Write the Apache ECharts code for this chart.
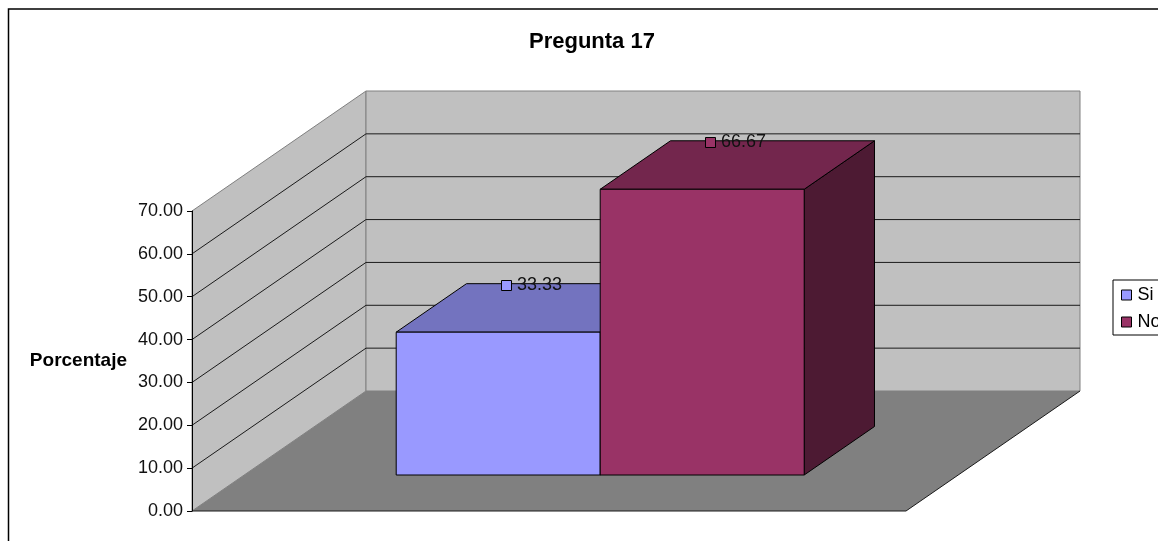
<!DOCTYPE html>
<html><head><meta charset="utf-8">
<style>html,body{margin:0;padding:0;background:#fff}#c{width:1158px;height:541px}</style>
<script src="https://cdn.jsdelivr.net/npm/echarts@6/dist/echarts.min.js"></script>
</head><body><div id="c"></div>
<script>
const chartTitle = 'Pregunta 17';
const yAxisName = 'Porcentaje';
const categories = [''];
const seriesNames = ['Si', 'No'];
const siValues = [33.33];
const noValues = [66.67];
const yTicks = [0, 10, 20, 30, 40, 50, 60, 70];

const FONT = '"Liberation Sans", Arial, sans-serif';
const DEPTH = [174, -120];         // screen vector of the full floor depth
const BAR_D = [0.3, 0.704];        // bars' depth range
const BAR_SHARE = 204 / 714;       // bar width as a share of the category
const BAR_NUDGE = -1;
const palette = [
  {front: '#9999FF', top: '#7373BF', side: '#4D4D80'},
  {front: '#993366', top: '#73264D', side: '#4D1A33'}
];

function proj(api, xShift, v, d) {
  const c = api.coord([0, v]);
  return [c[0] + xShift + d * DEPTH[0], c[1] + d * DEPTH[1]];
}

function wallsItem(params, api) {
  const w = api.size([1, 0])[0];
  const ymax = yTicks[yTicks.length - 1];
  const P = (t, v, d) => proj(api, (t - 0.5) * w, v, d);
  const kids = [
    {type: 'polygon', shape: {points: [P(0,0,0), P(0,0,1), P(0,ymax,1), P(0,ymax,0)]},
     style: {fill: '#C0C0C0', stroke: '#808080', lineWidth: 1}},
    {type: 'polygon', shape: {points: [P(0,0,1), P(1,0,1), P(1,ymax,1), P(0,ymax,1)]},
     style: {fill: '#C0C0C0', stroke: '#808080', lineWidth: 1}},
    {type: 'polygon', shape: {points: [P(0,0,0), P(1,0,0), P(1,0,1), P(0,0,1)]},
     style: {fill: '#808080', stroke: 'none'}},
    {type: 'polyline', shape: {points: [P(0,0,0), P(1,0,0), P(1,0,1)]},
     style: {fill: 'none', stroke: '#1a1a1a', lineWidth: 1}}
  ];
  yTicks.slice(1, -1).forEach(v => {
    kids.push({type: 'polyline', shape: {points: [P(0,v,0), P(0,v,1), P(1,v,1)]},
      style: {fill: 'none', stroke: '#1a1a1a', lineWidth: 1}});
  });
  return {type: 'group', children: kids};
}

function barItem(idx) {
  return function (params, api) {
    const w = api.size([1, 0])[0];
    const bw = w * BAR_SHARE;
    const x0 = (idx - 1) * bw + BAR_NUDGE, x1 = x0 + bw;
    const v = api.value(1);
    const p = palette[idx];
    const P = (x, val, d) => proj(api, x, val, d);
    const [d0, d1] = BAR_D;
    const st = f => ({fill: f, stroke: '#000', lineWidth: 1, lineJoin: 'round'});
    return {type: 'group', children: [
      {type: 'polygon', shape: {points: [P(x1,0,d0), P(x1,0,d1), P(x1,v,d1), P(x1,v,d0)]}, style: st(p.side)},
      {type: 'polygon', shape: {points: [P(x0,v,d0), P(x1,v,d0), P(x1,v,d1), P(x0,v,d1)]}, style: st(p.top)},
      {type: 'polygon', shape: {points: [P(x0,0,d0), P(x1,0,d0), P(x1,v,d0), P(x0,v,d0)]}, style: st(p.front)}
    ]};
  };
}

function labelItem(idx) {
  return function (params, api) {
    const w = api.size([1, 0])[0];
    const bw = w * BAR_SHARE;
    const v = api.value(1);
    const q = proj(api, (idx - 0.5) * bw + BAR_NUDGE, v, BAR_D[0]);
    const r = proj(api, 0, v, BAR_D[1]);
    const mx = Math.round(q[0] + 8), my = Math.round(r[1]) + 1;
    return {type: 'group', children: [
      {type: 'rect', shape: {x: mx - 4.5, y: my - 4.5, width: 10, height: 10},
       style: {fill: palette[idx].front, stroke: '#000', lineWidth: 1}},
      {type: 'text', style: {x: mx + 11, y: my, text: v.toFixed(2), fill: '#111',
        font: '18px ' + FONT, verticalAlign: 'middle', align: 'left'}}
    ]};
  };
}

const option = {
  animation: false,
  backgroundColor: '#fff',
  title: {text: chartTitle, left: 524, top: 26,
    textStyle: {fontFamily: FONT, fontSize: 22, fontWeight: 'bold', color: '#000'}},
  legend: {
    left: 1113, top: 280, orient: 'vertical', data: seriesNames, icon: 'rect',
    itemWidth: 10, itemHeight: 10, itemGap: 9, padding: [6, 30, 4, 8], borderColor: '#000', borderWidth: 1,
    backgroundColor: '#fff',
    itemStyle: {borderColor: '#000', borderWidth: 1},
    textStyle: {fontFamily: FONT, fontSize: 18, color: '#000', padding: [0, 0, 0, 1]}
  },
  grid: {left: 192, top: 211, width: 714, height: 300, containLabel: false},
  xAxis: {type: 'category', data: categories, axisTick: {show: false}, axisLabel: {show: false},
    axisLine: {show: false}, splitLine: {show: false}},
  yAxis: {type: 'value', min: 0, max: 70, interval: 10, z: 10,
    name: yAxisName, nameLocation: 'middle', nameRotate: 0, nameGap: 65,
    nameTextStyle: {fontFamily: FONT, fontSize: 19, fontWeight: 'bold', color: '#000', align: 'right', padding: [2, 0, 0, 0]},
    axisLine: {show: true, onZero: false, lineStyle: {color: '#000', width: 1}},
    axisTick: {show: true, length: 5, lineStyle: {color: '#000'}},
    axisLabel: {fontFamily: FONT, fontSize: 18, color: '#111', margin: 9, formatter: v => v.toFixed(2)},
    splitLine: {show: false}},
  graphic: [{type: 'rect', z: -1, shape: {x: 8.5, y: 9, width: 1300, height: 700},
    style: {fill: 'none', stroke: '#000', lineWidth: 1.5}}],
  series: [
    {type: 'custom', name: 'walls', silent: true, z: 1, renderItem: wallsItem, data: [[0, 0]],
     encode: {x: 0, y: 1}},
    {type: 'custom', name: seriesNames[0], z: 2, renderItem: barItem(0), itemStyle: {color: palette[0].front},
     data: siValues.map((v, i) => [i, v]), encode: {x: 0, y: 1}},
    {type: 'custom', name: seriesNames[1], z: 3, renderItem: barItem(1), itemStyle: {color: palette[1].front},
     data: noValues.map((v, i) => [i, v]), encode: {x: 0, y: 1}},
    {type: 'custom', name: 'label-si', z: 4, renderItem: labelItem(0), data: siValues.map((v, i) => [i, v]), encode: {x: 0, y: 1}},
    {type: 'custom', name: 'label-no', z: 4, renderItem: labelItem(1), data: noValues.map((v, i) => [i, v]), encode: {x: 0, y: 1}}
  ]
};
const chart = echarts.init(document.getElementById('c'), null, {renderer: 'canvas'});
chart.setOption(option);
</script></body></html>
